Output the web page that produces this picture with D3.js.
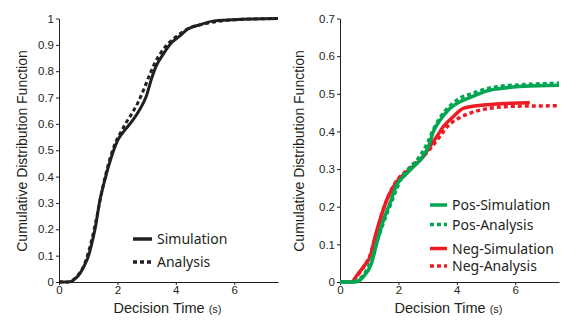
<!DOCTYPE html>
<html>
<head>
<meta charset="utf-8">
<script src="https://cdn.jsdelivr.net/npm/d3@7"></script>
<style>
  body { margin: 0; background: #fff; }
  text { font-family: "Liberation Sans", Arial, sans-serif; fill: #231f20; }
  .leg { font-family: "Noto Sans", "Open Sans", sans-serif; font-size: 14px; }
</style>
</head>
<body>
<svg id="fig" width="581" height="326"></svg>
<script>
// values: [time (s), cdf]
var allSim = [[0,0],[0.32,0],[0.5,0.008],[0.72,0.033],[0.9,0.07],[1.0,0.096],[1.12,0.145],[1.23,0.198],[1.4,0.31],[1.57,0.388],[1.8,0.476],[2.02,0.54],[2.31,0.584],[2.54,0.616],[2.76,0.654],[2.99,0.705],[3.16,0.768],[3.33,0.82],[3.56,0.863],[3.85,0.908],[4.13,0.933],[4.41,0.96],[4.81,0.976],[5.27,0.99],[5.95,0.995],[6.6,0.998],[7.5,1.0]];
var allAna = [[0,0],[0.3,0],[0.6,0.02],[0.9,0.075],[1.1,0.15],[1.3,0.25],[1.5,0.36],[1.7,0.45],[1.9,0.52],[2.1,0.565],[2.3,0.605],[2.5,0.64],[2.7,0.68],[2.9,0.73],[3.1,0.785],[3.3,0.835],[3.5,0.872],[3.7,0.9],[4.0,0.93],[4.4,0.96],[5.0,0.98],[5.5,0.99],[6.0,0.995],[7.5,1.0]];

var posSim = [[0,0],[0.5,0],[0.8,0.014],[1.08,0.05],[1.28,0.11],[1.49,0.165],[1.71,0.209],[1.94,0.258],[2.23,0.284],[2.51,0.306],[2.8,0.329],[3.03,0.36],[3.2,0.4],[3.43,0.43],[3.71,0.457],[4.11,0.479],[4.51,0.492],[5.14,0.51],[5.7,0.516],[6.28,0.52],[7.5,0.523]];
var posAna = [[0,0],[0.35,0],[0.6,0.005],[0.9,0.03],[1.1,0.065],[1.3,0.115],[1.5,0.16],[1.7,0.2],[1.9,0.24],[2.1,0.275],[2.4,0.305],[2.7,0.33],[3.0,0.37],[3.2,0.405],[3.5,0.445],[3.8,0.47],[4.1,0.488],[4.5,0.5],[5.0,0.513],[5.5,0.52],[6.0,0.523],[7.5,0.528]];
var negSim = [[0,0],[0.4,0],[0.6,0.02],[0.85,0.045],[1.03,0.067],[1.2,0.12],[1.43,0.18],[1.65,0.227],[1.94,0.266],[2.23,0.289],[2.57,0.311],[2.85,0.333],[3.08,0.36],[3.31,0.386],[3.54,0.413],[3.88,0.439],[4.22,0.461],[4.91,0.47],[5.6,0.474],[6.5,0.476]];
var negAna = [[0,0],[0.35,0],[0.6,0.018],[0.85,0.045],[1.05,0.075],[1.25,0.13],[1.45,0.185],[1.7,0.235],[1.95,0.27],[2.2,0.29],[2.5,0.31],[2.8,0.33],[3.1,0.355],[3.4,0.385],[3.7,0.415],[4.0,0.432],[4.5,0.45],[5.0,0.46],[5.5,0.465],[6.0,0.467],[7.5,0.468]];

var xTicks = [0, 2, 4, 6];
var leftYTicks = [0, 0.1, 0.2, 0.3, 0.4, 0.5, 0.6, 0.7, 0.8, 0.9, 1];
var rightYTicks = [0, 0.1, 0.2, 0.3, 0.4, 0.5, 0.6, 0.7];

var green = "#00a651", red = "#ed1c24", black = "#231f20";
var svg = d3.select("#fig");

function panel(opt) {
  var x = d3.scaleLinear().domain([0, 7.5]).range([opt.x0, opt.x1]);
  var y = d3.scaleLinear().domain([0, opt.ymax]).range([282, 18.5]);
  var g = svg.append("g");

  var xa = g.append("g").attr("transform", "translate(0,282)")
    .call(d3.axisBottom(x).tickValues(xTicks).tickSize(3).tickSizeOuter(0).tickPadding(1));
  var ya = g.append("g").attr("transform", "translate(" + opt.x0 + ",0)")
    .call(d3.axisLeft(y).tickValues(opt.yTicks).tickSize(3).tickSizeOuter(0).tickPadding(2)
      .tickFormat(d3.format("")));
  [xa, ya].forEach(function (a) {
    a.select(".domain").attr("stroke", black).attr("stroke-width", 1);
    a.selectAll(".tick line").attr("stroke", black);
    a.selectAll("text").style("font-size", "11.5px").attr("fill", "#231f20");
  });

  // axis titles
  var xt = g.append("text").attr("x", (opt.x0 + opt.x1) / 2 - 1).attr("y", 313)
    .attr("text-anchor", "middle").style("font-size", "14.5px");
  xt.append("tspan").text("Decision Time ");
  xt.append("tspan").style("font-size", "11px").text("(s)");
  g.append("text").attr("transform", "translate(" + opt.titleX + ",151) rotate(-90)")
    .attr("text-anchor", "middle").style("font-size", "14px")
    .text("Cumulative Distribution Function");

  var line = d3.line().x(function (d) { return x(d[0]); }).y(function (d) { return y(d[1]); })
    .curve(d3.curveMonotoneX);
  opt.series.forEach(function (s) {
    g.append("path").datum(s.data).attr("d", line).attr("fill", "none")
      .attr("stroke", s.color).attr("stroke-width", s.w)
      .attr("stroke-dasharray", s.dash ? "4,3" : null);
  });

  // legend
  opt.legend.forEach(function (l) {
    g.append("line").attr("x1", opt.legX).attr("x2", opt.legX + opt.legLen)
      .attr("y1", l.y).attr("y2", l.y).attr("stroke", l.color).attr("stroke-width", 3.5)
      .attr("stroke-dasharray", l.dash ? "4,3" : null);
    g.append("text").attr("class", "leg").attr("x", opt.legX + opt.legLen + 5)
      .attr("y", l.y + 5).text(l.label);
  });
}

panel({
  x0: 59, x1: 278, ymax: 1, yTicks: leftYTicks, titleX: 27,
  series: [
    { data: allSim, color: black, w: 3, dash: false },
    { data: allAna, color: black, w: 3, dash: true }
  ],
  legX: 133, legLen: 19,
  legend: [
    { label: "Simulation", y: 239, color: black, dash: false },
    { label: "Analysis", y: 262, color: black, dash: true }
  ]
});

panel({
  x0: 340, x1: 559, ymax: 0.7, yTicks: rightYTicks, titleX: 304,
  series: [
    { data: negAna, color: red, w: 3.5, dash: true },
    { data: negSim, color: red, w: 3.5, dash: false },
    { data: posAna, color: green, w: 3.5, dash: true },
    { data: posSim, color: green, w: 3.5, dash: false }
  ],
  legX: 430, legLen: 17,
  legend: [
    { label: "Pos-Simulation", y: 205, color: green, dash: false },
    { label: "Pos-Analysis", y: 224.5, color: green, dash: true },
    { label: "Neg-Simulation", y: 248.5, color: red, dash: false },
    { label: "Neg-Analysis", y: 266, color: red, dash: true }
  ]
});
</script>
</body>
</html>
